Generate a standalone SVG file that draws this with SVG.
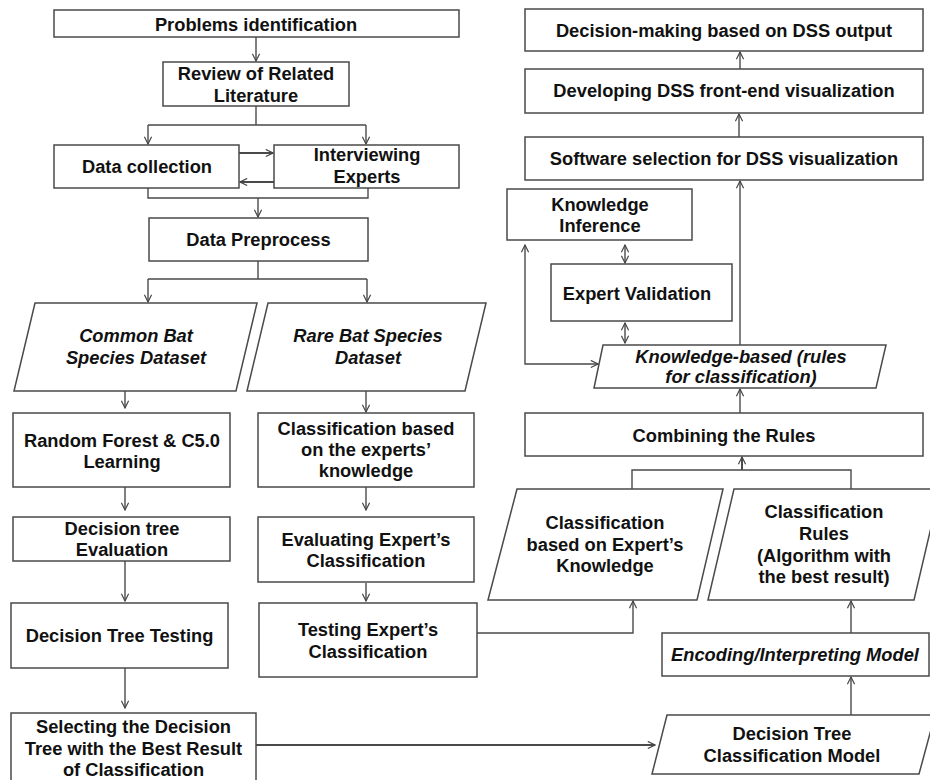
<svg xmlns="http://www.w3.org/2000/svg" width="930" height="780" viewBox="0 0 930 780">
<defs>
<marker id="ah" viewBox="0 0 10 10" refX="9" refY="5" markerWidth="9" markerHeight="9" markerUnits="userSpaceOnUse" orient="auto-start-reverse">
<path d="M1,1 L9,5 L1,9" fill="none" stroke="#444" stroke-width="1.3"/>
</marker>
</defs>
<style>
.n{fill:#fff;stroke:#4a4a4a;stroke-width:1.5}
.t{font-family:"Liberation Sans",Arial,sans-serif;font-weight:bold;font-size:18.3px;fill:#111;text-anchor:middle}
.i{font-style:italic}
.c{fill:none;stroke:#4a4a4a;stroke-width:1.4}
.a{marker-end:url(#ah)}
.b{marker-start:url(#ah);marker-end:url(#ah)}
</style>
<rect width="930" height="780" fill="#fff"/>
<g id="connectors">
<path class="c a" d="M256,37 V61"/>
<path class="c" d="M256,106 V125 M148,125 H366"/>
<path class="c a" d="M148,125 V144"/>
<path class="c a" d="M366,125 V144"/>
<path class="c a" d="M239,153 H273" style="stroke-width:2"/>
<path class="c a" d="M274,182 H240" style="stroke-width:2"/>
<path class="c" d="M148,188 V198 H368 V188"/>
<path class="c a" d="M258,198 V217"/>
<path class="c" d="M258,261 V279 M148,279 H367"/>
<path class="c a" d="M148,279 V302"/>
<path class="c a" d="M367,279 V302"/>
<path class="c a" d="M125,391 V408"/>
<path class="c a" d="M125,487 V510"/>
<path class="c a" d="M125,561 V601"/>
<path class="c a" d="M125,668 V708"/>
<path class="c a" d="M256,745 H655" style="stroke-width:1.8"/>
<path class="c a" d="M366,391 V412"/>
<path class="c a" d="M366,487 V510"/>
<path class="c a" d="M366,583 V601"/>
<path class="c a" d="M477,633 H633 V601"/>
<path class="c a" d="M851,715 V677"/>
<path class="c a" d="M851,633 V601"/>
<path class="c" d="M632,489 V470 H851 V489"/>
<path class="c a" d="M742,470 V457" style="stroke-width:2"/>
<path class="c a" d="M740,413 V389"/>
<path class="c a" d="M740,345 V181"/>
<path class="c a" d="M739,137 V114"/>
<path class="c a" d="M740,69 V52"/>
<path class="c b" d="M625,245 V263"/>
<path class="c b" d="M625,323 V343"/>
<path class="c b" d="M525,245 V364 H598"/>
</g>
<g id="n1"><rect class="n" x="54" y="10" width="405" height="27"/><text class="t" x="256" y="30.5">Problems identification</text></g>
<g id="n2"><rect class="n" x="163" y="62" width="186" height="44"/><text class="t" x="256" y="80">Review of Related</text><text class="t" x="256" y="102">Literature</text></g>
<g id="n3"><rect class="n" x="54" y="145" width="185" height="43"/><text class="t" x="147" y="173">Data collection</text></g>
<g id="n4"><rect class="n" x="274" y="145" width="185" height="43"/><text class="t" x="367" y="161">Interviewing</text><text class="t" x="367" y="183">Experts</text></g>
<g id="n5"><rect class="n" x="149" y="218" width="219" height="43"/><text class="t" x="258.5" y="246">Data Preprocess</text></g>
<g id="n6"><path class="n" d="M35,303 H257 L236,391 H14 Z"/><text class="t i" x="136" y="342">Common Bat</text><text class="t i" x="136" y="364">Species Dataset</text></g>
<g id="n7"><path class="n" d="M268,303 H486 L465,391 H247 Z"/><text class="t i" x="368" y="342">Rare Bat Species</text><text class="t i" x="368" y="364">Dataset</text></g>
<g id="n8"><rect class="n" x="13" y="413" width="217" height="74"/><text class="t" x="122" y="447">Random Forest &amp; C5.0</text><text class="t" x="122" y="468">Learning</text></g>
<g id="n9"><rect class="n" x="13" y="517" width="217" height="44"/><text class="t" x="122" y="535">Decision tree</text><text class="t" x="122" y="556">Evaluation</text></g>
<g id="n10"><rect class="n" x="11" y="603" width="217" height="65"/><text class="t" x="119.5" y="642">Decision Tree Testing</text></g>
<g id="n11"><rect class="n" x="11" y="713" width="245" height="80"/><text class="t" x="133.5" y="733">Selecting the Decision</text><text class="t" x="133.5" y="755">Tree with the Best Result</text><text class="t" x="133.5" y="776">of Classification</text></g>
<g id="n12"><rect class="n" x="258" y="413" width="216" height="74"/><text class="t" x="366" y="435">Classification based</text><text class="t" x="366" y="456">on the experts’</text><text class="t" x="366" y="477">knowledge</text></g>
<g id="n13"><rect class="n" x="258" y="517" width="216" height="65"/><text class="t" x="366" y="546">Evaluating Expert’s</text><text class="t" x="366" y="567">Classification</text></g>
<g id="n14"><rect class="n" x="259" y="603" width="218" height="74"/><text class="t" x="368" y="636">Testing Expert’s</text><text class="t" x="368" y="658">Classification</text></g>
<g id="n15"><rect class="n" x="525" y="9" width="398" height="42"/><text class="t" x="724" y="37">Decision-making based on DSS output</text></g>
<g id="n16"><rect class="n" x="525" y="69" width="398" height="44"/><text class="t" x="724" y="97">Developing DSS front-end visualization</text></g>
<g id="n17"><rect class="n" x="525" y="137" width="398" height="43"/><text class="t" x="724" y="165">Software selection for DSS visualization</text></g>
<g id="n18"><rect class="n" x="507" y="189" width="185" height="51"/><text class="t" x="600" y="211">Knowledge</text><text class="t" x="600" y="232">Inference</text></g>
<g id="n19"><rect class="n" x="551" y="264" width="181" height="57"/><text class="t" x="637" y="300">Expert Validation</text></g>
<g id="n20"><path class="n" d="M603,345 H886 L876,388 H594 Z"/><text class="t i" x="741" y="363">Knowledge-based (rules</text><text class="t i" x="741" y="383">for classification)</text></g>
<g id="n21"><rect class="n" x="525" y="413" width="398" height="43"/><text class="t" x="724" y="442">Combining the Rules</text></g>
<g id="n22"><path class="n" d="M517,489 H723 L697,600 H488 Z"/><text class="t" x="605" y="529">Classification</text><text class="t" x="605" y="551">based on Expert’s</text><text class="t" x="605" y="572">Knowledge</text></g>
<g id="n23"><path class="n" d="M734,489 H940 L914,600 H708 Z"/><text class="t" x="824" y="518">Classification</text><text class="t" x="824" y="540">Rules</text><text class="t" x="824" y="562">(Algorithm with</text><text class="t" x="824" y="583">the best result)</text></g>
<g id="n24"><rect class="n" x="662" y="633" width="267" height="43"/><text class="t i" x="795" y="661">Encoding/Interpreting Model</text></g>
<g id="n25"><path class="n" d="M667,715 H935 L919,774 H652 Z"/><text class="t" x="792" y="740">Decision Tree</text><text class="t" x="792" y="762">Classification Model</text></g>
</svg>
